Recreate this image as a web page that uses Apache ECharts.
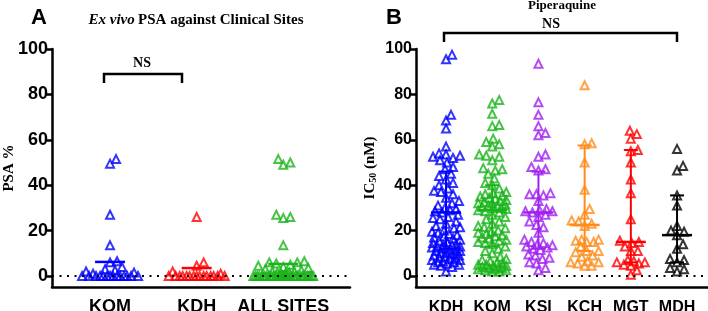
<!DOCTYPE html>
<html>
<head>
<meta charset="utf-8">
<script src="https://cdn.jsdelivr.net/npm/echarts@6/dist/echarts.min.js"></script>
<style>
  html, body { margin: 0; padding: 0; background: #fff; }
  #chart { width: 708px; height: 311px; }
</style>
</head>
<body>
<div id="chart"></div>
<script>
// ---- panel A: ex vivo PSA ----
const sitesA = ["KOM", "KDH", "ALL SITES"];
const colorsA = ["#0000ff", "#ff0000", "#19b419"];
const psaKOM = [51.5, 49.5, 27, 13.5, 6.5, 6, 4, 3, 2.5, 2, 1.5, 1,
  0, 0, 0, 0, 0, 0, 0, 0, 0, 0, 0, 0, 0, 0];
const psaKDH = [26, 6, 4.5, 2, 1,
  0, 0, 0, 0, 0, 0, 0, 0, 0, 0, 0, 0, 0, 0, 0];
const psaALL = [51.5, 50, 49, 27, 26, 25.5, 13.5, 6.5, 6, 6, 5.5, 5, 4.5, 4, 3.5, 3, 2.5, 2, 2, 1.5, 1.5, 1, 1,
  0, 0, 0, 0, 0, 0, 0, 0, 0, 0, 0, 0, 0, 0, 0, 0, 0, 0, 0, 0, 0, 0, 0, 0, 0, 0, 0, 0, 0];
const meanA = [6.2, 3.5, 5.3];

// ---- panel B: piperaquine IC50 ----
const sitesB = ["KDH", "KOM", "KSI", "KCH", "MGT", "MDH"];
const colorsB = ["#0000ff", "#19b419", "#a020f0", "#ff8c1a", "#ff0000", "#000000"];
const ic50KDH = [97.5, 95.5, 71, 68.5, 65, 57, 54, 53.5, 53, 52.5, 52, 51, 50, 48, 47, 45, 44, 42.5, 41, 40,
  38.5, 37.5, 37, 36, 34.5, 33, 32, 31, 30, 29.5, 29, 28.5, 28, 27, 26, 25.5, 25, 24, 23, 22, 21.5, 21, 20,
  19.5, 19, 18.5, 18, 17.5, 17, 16.5, 16, 15.5, 15, 14.5, 14, 13.5, 13.5, 13, 13, 12.5, 12.5, 12, 12, 11.5,
  11, 11, 10.5, 10, 10, 9.5, 9, 9, 8.5, 8, 8, 7.5, 7, 7, 6.5, 6, 6, 5.5, 5, 5, 4.5, 4, 2];
const ic50KOM = [77.5, 76, 71.5, 66.5, 66, 60.5, 59, 58, 57, 53.5, 53, 52.5, 51, 47.5, 47, 46.5, 45, 43, 41, 40,
  38.5, 37, 36.5, 36, 35.5, 35, 34.5, 34, 33.5, 33, 32.5, 32, 32, 31.5, 31, 31, 30.5, 30, 30, 29.5, 29, 28.5,
  28, 27, 26, 25, 24, 23, 22, 21.5, 21, 20, 19.5, 19, 18.5, 18, 17.5, 17, 16.5, 16, 15.5, 15, 14.5, 14, 13,
  12, 11, 10, 8.5, 7.5, 7, 6.5, 6, 5.5, 5, 5, 4.5, 4.5, 4, 4, 3.5, 3.5, 3, 3, 2.5, 2.5, 2, 2];
const ic50KSI = [93.5, 76.5, 71, 66, 63, 62, 53.5, 52.5, 48, 47, 46.5, 36.5, 36, 36, 35.5, 33, 29.5, 29, 28.5,
  28.5, 28, 27, 26, 24, 22.5, 21.5, 19, 16, 15, 14.5, 14, 13.5, 13, 12.5, 12, 11.5, 9.5, 9, 8, 7.5, 6, 5.5, 3.5, 2.5];
const ic50KCH = [84, 58.5, 58, 50, 38, 29.5, 27, 24.5, 24, 23, 22, 16, 16, 15.5, 15, 15, 13, 11, 11, 10.5, 9,
  8.5, 6.5, 6, 6, 5.5, 4.5, 4.5];
const ic50MGT = [64, 62.5, 60.5, 55.5, 55, 50, 42.5, 36.5, 25, 15.5, 15, 14.5, 13, 11, 11, 7, 6.5, 6, 6, 5.5,
  5, 4.5, 2.5, 0.5];
const ic50MDH = [56, 48.5, 46.5, 35.5, 31, 22, 20, 19.5, 18, 14, 12, 7.5, 7, 6, 3.5, 3, 2];
const medianB = [28, 29, 28, 22.5, 15, 18];
const q1B = [12, 13, 12, 11, 6, 6];
const q3B = [46, 40, 46, 57.5, 55.5, 35.5];

const yTicks = [0, 20, 40, 60, 80, 100];

// layout
const gridTop = 49, gridH = 238, yMin = -4.85, yMax = 100;
const pxPerY = gridH / (yMax - yMin);
const gA = { left: 52, width: 298, min: 0.33, max: 3.77 };
const gB = { left: 416, width: 292, min: 0.35, max: 6.67 };

// simple beeswarm: offsets in px so triangles don't sit on top of each other
function swarm(values, size, cap) {
  const placed = [];
  const offs = new Array(values.length);
  const order = values.map((v, i) => i).sort((a, b) => values[a] - values[b]);
  for (const i of order) {
    const y = values[i] * pxPerY;
    let best = 0, bestD = -1;
    for (let k = 0; k <= 2 * cap; k++) {
      const dx = (k % 2 ? 1 : -1) * Math.ceil(k / 2);
      let minD = Infinity;
      for (const p of placed) {
        const d = Math.hypot(p.x - dx, p.y - y);
        if (d < minD) minD = d;
      }
      if (minD >= size) { best = dx; bestD = minD; break; }
      if (minD > bestD) { bestD = minD; best = dx; }
    }
    offs[i] = best;
    placed.push({ x: best, y });
  }
  return offs;
}

function points(values, idx, g, cap) {
  const pxPerX = g.width / (g.max - g.min);
  const offs = swarm(values, 7, cap);
  return values.map((v, i) => [idx + 1 + offs[i] / pxPerX, v]);
}

const axisColor = "#000";
const tickFont = { color: "#000", fontFamily: "Liberation Sans, Arial", fontWeight: "bold" };

function xAxis(gridIndex, g, names, fontSize, margin) {
  return {
    type: "value", gridIndex, min: g.min, max: g.max,
    axisLine: { show: true, onZero: false, lineStyle: { color: axisColor, width: 2.5 } },
    axisTick: { show: false },
    splitLine: { show: false },
    axisLabel: {
      ...tickFont, fontSize, margin,
      customValues: names.map((_, i) => i + 1),
      formatter: (v) => names[Math.round(v) - 1] || "",
    },
  };
}

function yAxis(gridIndex, name, nameGap, fontSize) {
  return {
    type: "value", gridIndex, min: yMin, max: yMax,
    name, nameLocation: "middle", nameGap, nameMoveOverlap: false,
    nameTextStyle: {
      color: "#000", fontFamily: "Liberation Serif, Times New Roman", fontWeight: "bold", fontSize: 15,
      rich: {
        a: { fontFamily: "Liberation Serif", fontWeight: "bold", fontSize: 15, color: "#000" },
        s: { fontFamily: "Liberation Serif", fontWeight: "bold", fontSize: 10, color: "#000", padding: [6, 0, 0, 0] },
      },
    },
    axisLine: { show: true, lineStyle: { color: axisColor, width: 2.5 } },
    axisTick: { show: true, length: 7, lineStyle: { width: 2.5, color: axisColor }, customValues: yTicks },
    splitLine: { show: false },
    axisLabel: { ...tickFont, fontSize, margin: 4, customValues: yTicks },
  };
}

function scatter(values, idx, color, xi, g, cap) {
  return {
    type: "scatter", xAxisIndex: xi, yAxisIndex: xi,
    data: points(values, idx, g, cap),
    symbol: "triangle", symbolSize: 8,
    itemStyle: { color: "rgba(255,255,255,0)", borderColor: color, borderWidth: 2 },
    silent: true, z: 3,
  };
}

function stats(xi, rows, colors, halfMed, halfCap) {
  return {
    type: "custom", xAxisIndex: xi, yAxisIndex: xi, silent: true, z: 4,
    data: rows,
    renderItem: (params, api) => {
      const x = api.value(0), med = api.value(1);
      const c = api.coord([x, med]);
      const col = colors[x - 1];
      const style = { stroke: col, lineWidth: 2.5 };
      const children = [{ type: "line", shape: { x1: c[0] - halfMed, y1: c[1], x2: c[0] + halfMed, y2: c[1] }, style }];
      if (rows[params.dataIndex].length > 2) {
        const lo = api.coord([x, api.value(2)]), hi = api.coord([x, api.value(3)]);
        const thin = { stroke: col, lineWidth: 2 };
        children.push({ type: "line", shape: { x1: c[0], y1: lo[1], x2: c[0], y2: hi[1] }, style: thin });
        children.push({ type: "line", shape: { x1: c[0] - halfCap, y1: lo[1], x2: c[0] + halfCap, y2: lo[1] }, style: thin });
        children.push({ type: "line", shape: { x1: c[0] - halfCap, y1: hi[1], x2: c[0] + halfCap, y2: hi[1] }, style: thin });
      }
      return { type: "group", children };
    },
  };
}

function zeroLine(xi) {
  return {
    type: "line", xAxisIndex: xi, yAxisIndex: xi, data: [], silent: true,
    markLine: {
      silent: true, symbol: "none", label: { show: false },
      lineStyle: { color: "#000", width: 2, type: [2, 5.5] },
      data: [{ yAxis: 0 }],
    },
  };
}

const seriesA = [psaKOM, psaKDH, psaALL];
const seriesB = [ic50KDH, ic50KOM, ic50KSI, ic50KCH, ic50MGT, ic50MDH];

const serif = "Liberation Serif, Times New Roman";
const option = {
  animation: false,
  grid: [
    { left: gA.left, top: gridTop, width: gA.width, height: gridH, outerBoundsMode: "none", containLabel: false },
    { left: gB.left, top: gridTop, width: gB.width, height: gridH, outerBoundsMode: "none", containLabel: false },
  ],
  xAxis: [xAxis(0, gA, sitesA, 18, 11), xAxis(1, gB, sitesB, 16, 13)],
  yAxis: [yAxis(0, "PSA %", 35, 18), yAxis(1, "{a|IC}{s|50}{a| (nM)}", 38, 16)],
  series: [
    zeroLine(0), zeroLine(1),
    ...seriesA.map((v, i) => scatter(v, i, colorsA[i], 0, gA, 30)),
    ...seriesB.map((v, i) => scatter(v, i, colorsB[i], 1, gB, 14)),
    stats(0, meanA.map((m, i) => [i + 1, m]), colorsA, 15, 0),
    stats(1, medianB.map((m, i) => [i + 1, m, q1B[i], q3B[i]]), colorsB, 15, 7),
  ],
  graphic: [
    { type: "text", left: 31, top: 7, style: { text: "A", font: "bold 22px Liberation Sans", fill: "#000" } },
    { type: "text", left: 386, top: 7, style: { text: "B", font: "bold 22px Liberation Sans", fill: "#000" } },
    {
      type: "text", x: 196, y: 20,
      style: {
        text: "{i|Ex vivo} {b|PSA against Clinical Sites}", align: "center", verticalAlign: "middle",
        rich: {
          i: { fontFamily: serif, fontStyle: "italic", fontWeight: "bold", fontSize: 15, fill: "#000" },
          b: { fontFamily: serif, fontWeight: "bold", fontSize: 15, fill: "#000" },
        },
      },
    },
    { type: "text", x: 562, y: 6, style: { text: "Piperaquine", align: "center", verticalAlign: "middle", font: "bold 13px " + serif, fill: "#000" } },
    { type: "text", x: 142, y: 63, style: { text: "NS", align: "center", verticalAlign: "middle", font: "bold 14px " + serif, fill: "#000" } },
    { type: "text", x: 551, y: 24, style: { text: "NS", align: "center", verticalAlign: "middle", font: "bold 14px " + serif, fill: "#000" } },
    { type: "polyline", shape: { points: [[104, 83], [104, 74], [182, 74], [182, 83]] }, style: { stroke: "#000", lineWidth: 2.5, fill: null } },
    { type: "polyline", shape: { points: [[444, 42], [444, 33], [677, 33], [677, 42]] }, style: { stroke: "#000", lineWidth: 2.5, fill: null } },
  ],
};

const chart = echarts.init(document.getElementById("chart"), null, { renderer: "canvas" });
chart.setOption(option);
</script>
</body>
</html>
